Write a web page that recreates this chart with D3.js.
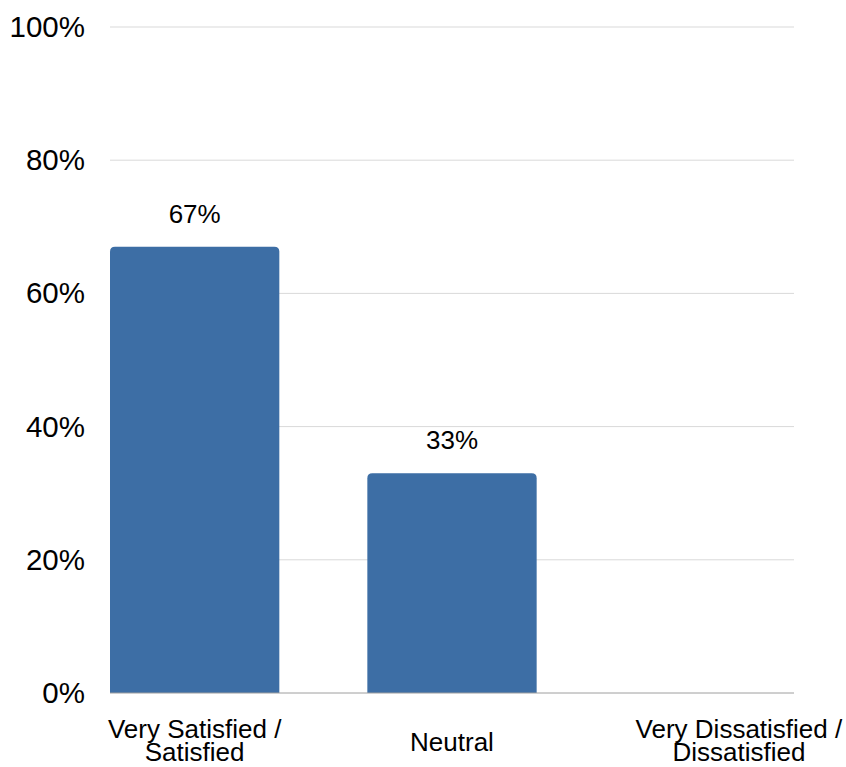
<!DOCTYPE html>
<html>
<head>
<meta charset="utf-8">
<script src="https://cdn.jsdelivr.net/npm/d3@7"></script>
<style>
  body { margin: 0; background: #fff; }
  text { font-family: "Liberation Sans", Arial, sans-serif; fill: #000; }
</style>
</head>
<body>
<script>
const categories = ['Very Satisfied / Satisfied', 'Neutral', 'Very Dissatisfied / Dissatisfied'];
const labelLines = [['Very Satisfied /', 'Satisfied'], ['Neutral'], ['Very Dissatisfied /', 'Dissatisfied']];
const values = [67, 33, 0];
const yTicks = [0, 20, 40, 60, 80, 100];

let width = 846,
    height = 767;

let svg = d3.select('body')
    .append('svg')
    .attr('width', width)
    .attr('height', height);

// scales
let x = d3.scaleBand()
    .domain(categories)
    .range([110, 794])
    .paddingInner(0.342)
    .paddingOuter(0);

let y = d3.scaleLinear()
    .domain([0, 100])
    .range([693, 27]);

// grid lines
svg.append('g')
    .selectAll('line')
    .data(yTicks.filter(d => d > 0))
    .enter()
    .append('line')
    .attr('x1', 110)
    .attr('x2', 794)
    .attr('y1', d => y(d))
    .attr('y2', d => y(d))
    .attr('stroke', '#d9d9d9')
    .attr('stroke-width', 1);

// y axis labels
let yAxis = d3.axisLeft(y)
    .tickValues(yTicks)
    .tickFormat(d => d + '%')
    .tickSize(0)
    .tickPadding(25);

let yg = svg.append('g')
    .attr('transform', 'translate(110,0)')
    .call(yAxis);
yg.select('.domain').remove();
yg.selectAll('text')
    .style('font-size', '29.5px')
    .style('font-family', '"Liberation Sans", Arial, sans-serif')
    .attr('fill', '#000');

// bars with rounded top corners
let r = 5;
function barPath(d, i) {
    let x0 = x(categories[i]), w = x.bandwidth();
    let y0 = y(d), y1 = y(0);
    if (y1 - y0 < r) return '';
    return 'M' + x0 + ',' + y1 +
        'V' + (y0 + r) +
        'Q' + x0 + ',' + y0 + ' ' + (x0 + r) + ',' + y0 +
        'H' + (x0 + w - r) +
        'Q' + (x0 + w) + ',' + y0 + ' ' + (x0 + w) + ',' + (y0 + r) +
        'V' + y1 + 'Z';
}

svg.append('g')
    .selectAll('path')
    .data(values)
    .enter()
    .append('path')
    .attr('d', barPath)
    .attr('fill', '#3d6ea5');

// baseline
svg.append('line')
    .attr('x1', 110)
    .attr('x2', 794)
    .attr('y1', y(0))
    .attr('y2', y(0))
    .attr('stroke', '#9e9e9e')
    .attr('stroke-width', 1);

// value labels
svg.append('g')
    .selectAll('text')
    .data(values)
    .enter()
    .filter(d => d > 0)
    .append('text')
    .attr('x', d => x(categories[values.indexOf(d)]) + x.bandwidth() / 2)
    .attr('y', d => y(d) - 24)
    .attr('text-anchor', 'middle')
    .style('font-size', '26px')
    .text(d => d + '%');

// category labels
let catG = svg.append('g');
labelLines.forEach(function (lines, i) {
    let cx = x(categories[i]) + x.bandwidth() / 2;
    let t = catG.append('text')
        .attr('text-anchor', 'middle')
        .style('font-size', '26px');
    let baseY = lines.length === 1 ? 751 : 738;
    lines.forEach(function (ln, j) {
        t.append('tspan')
            .attr('x', cx)
            .attr('y', baseY + j * 23)
            .text(ln);
    });
    // last label is pushed to the right edge like in the original
    if (i === labelLines.length - 1) {
        let bb = t.node().getBBox();
        t.attr('transform', 'translate(' + ((width - 3) - (bb.x + bb.width)) + ',0)');
    }
});
</script>
</body>
</html>
